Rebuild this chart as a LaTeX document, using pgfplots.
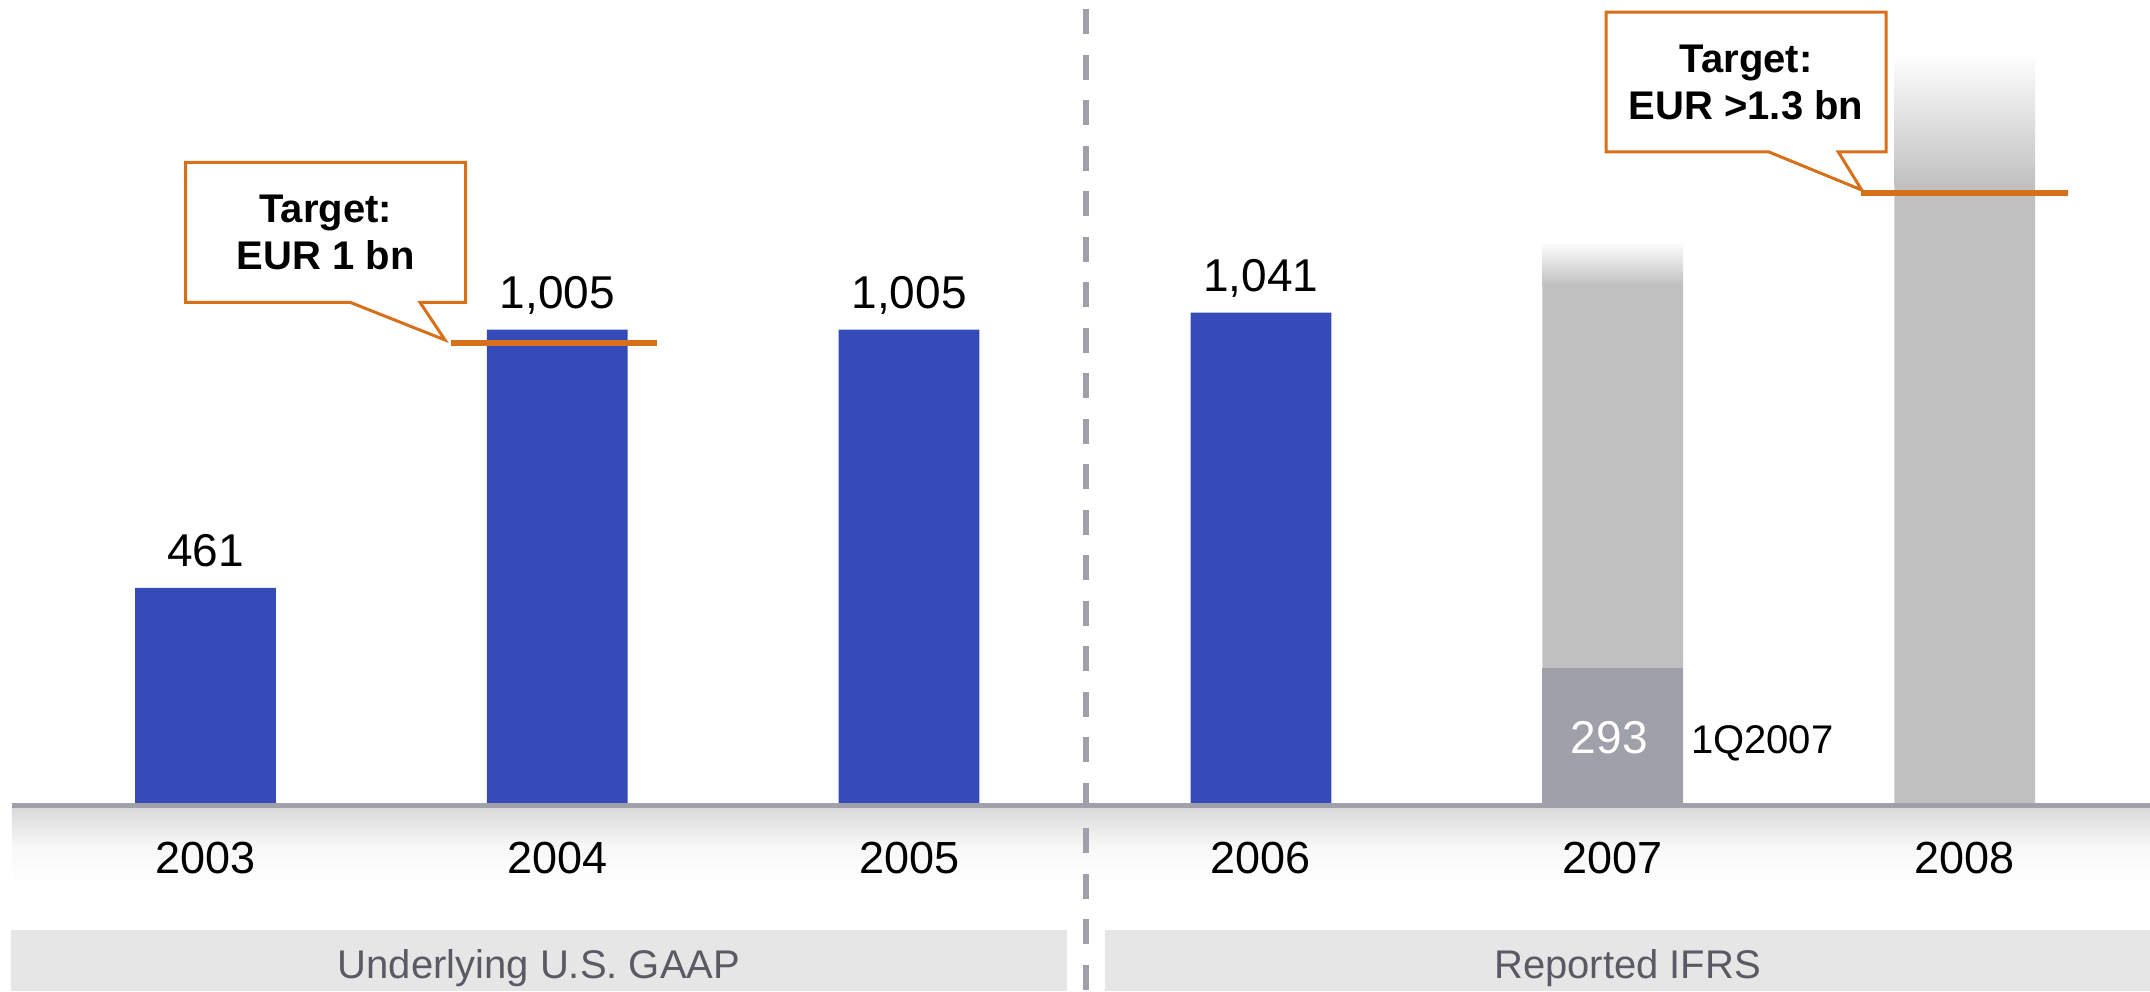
\documentclass[border=0pt]{standalone}
\usepackage{pgfplots}
\pgfplotsset{compat=1.18}
\usepackage{fontspec}
\setmainfont{Liberation Sans}
\definecolor{barblue}{RGB}{52,75,184}
\definecolor{lightgrey}{RGB}{192,192,192}
\definecolor{darkgrey}{RGB}{160,160,170}
\definecolor{axisgrey}{RGB}{160,160,170}
\definecolor{tgtorange}{RGB}{214,112,26}
\definecolor{boxgrey}{RGB}{230,230,230}
\definecolor{bandgrey}{RGB}{218,218,218}
\definecolor{labelgrey}{RGB}{90,90,100}
\begin{document}
\begin{tikzpicture}
\begin{axis}[
  width=1075pt, height=495.5pt, scale only axis,
  xmin=-0.5838, xmax=5.5269, ymin=-388, ymax=1699.6,
  axis line style={draw=none}, major tick length=0pt,
  axis on top,
  ytick=\empty,
  xtick={0,1,2,3,4,5},
  xticklabels={2003,2004,2005,2006,2007,2008},
  xticklabel style={anchor=base, yshift=59pt, font=\fontsize{22.5}{26}\selectfont},
  clip=false,
  /pgf/number format/1000 sep={,},
  /pgf/number format/assume math mode=true,
]
\coordinate (BL) at (rel axis cs:0,0);
\coordinate (TR) at (rel axis cs:1,1);
% bottom group boxes
\fill[boxgrey] (axis cs:-0.5525,-259.5) rectangle (axis cs:2.4488,-388);
\fill[boxgrey] (axis cs:2.5568,-259.5) rectangle (axis cs:5.5269,-388);
\node[anchor=base, text=labelgrey, font=\fontsize{20}{24}\selectfont] at (axis cs:0.948,-360.7) {Underlying U.S. GAAP};
\node[anchor=base, text=labelgrey, font=\fontsize{20}{24}\selectfont] at (axis cs:4.042,-360.7) {Reported IFRS};
% gradient band under the baseline
\shade[top color=bandgrey, bottom color=white, middle color=black!3] (axis cs:-0.5497,-2.53) rectangle (axis cs:5.5269,-160.5);
% light grey projected bars
\addplot[ybar, bar width=0.4, bar shift=0pt, fill=lightgrey, draw=none] coordinates {(4,1099.2) (5,1305.7)};
\addplot[draw=none, top color=white, bottom color=lightgrey, mark=none] coordinates {(3.8,1099.2) (4.2,1099.2) (4.2,1190) (3.8,1190) (3.8,1099.2)};
\addplot[draw=none, top color=white, bottom color=lightgrey, mark=none] coordinates {(4.8,1305.7) (5.2,1305.7) (5.2,1588) (4.8,1588) (4.8,1305.7)};
% 1Q2007 actual
\addplot[ybar, bar width=0.4, bar shift=0pt, fill=darkgrey, draw=none] coordinates {(4,293)};
\node[anchor=base, text=white, font=\fontsize{23}{27}\selectfont] at (axis cs:3.99,112.7) {293};
\node[anchor=base west, inner sep=0pt, font=\fontsize{20}{24}\selectfont] at (axis cs:4.2215,112.7) {1Q2007};
% blue bars
\addplot[ybar, bar width=0.4, bar shift=0pt, fill=barblue, draw=none,
  nodes near coords,
  every node near coord/.append style={anchor=base, yshift=10.5pt, font=\fontsize{23}{27}\selectfont, text=black}]
  coordinates {(0,461) (1,1005) (2,1005) (3,1041)};
% baseline
\draw[axisgrey, line width=2.5pt] (axis cs:-0.5497,2.74) -- (axis cs:5.5269,2.74);
% dashed separator
\draw[axisgrey, line width=3pt, dash pattern=on 12.5pt off 10.25pt, dash phase=18.1pt] (axis cs:2.503,1699.6) -- (axis cs:2.503,-388);
% target lines
\addplot[tgtorange, line width=3pt, mark=none] coordinates {(0.697,978) (1.284,978)};
\addplot[tgtorange, line width=3pt, mark=none] coordinates {(4.706,1292) (5.295,1292)};
% callout 1
\draw[tgtorange, line width=1.5pt, fill=white, line join=miter]
  (axis cs:-0.0560,1357.7) -- (axis cs:0.7398,1357.7) -- (axis cs:0.7398,1062.8)
  -- (axis cs:0.6099,1062.8) -- (axis cs:0.6810,983.4) -- (axis cs:0.4110,1062.8)
  -- (axis cs:-0.0560,1062.8) -- cycle;
\node[anchor=base, font=\fontsize{20}{24}\selectfont\bfseries] at (axis cs:0.3419,1230.5) {Target:};
\node[anchor=base, font=\fontsize{20}{24}\selectfont\bfseries] at (axis cs:0.3419,1132.3) {EUR 1 bn};
% callout 2
\draw[tgtorange, line width=1.5pt, fill=white, line join=miter]
  (axis cs:3.9808,1674.3) -- (axis cs:4.7766,1674.3) -- (axis cs:4.7766,1379.4)
  -- (axis cs:4.6411,1379.4) -- (axis cs:4.7076,1299.3) -- (axis cs:4.4441,1379.4)
  -- (axis cs:3.9808,1379.4) -- cycle;
\node[anchor=base, font=\fontsize{20}{24}\selectfont\bfseries] at (axis cs:4.3787,1547.0) {Target:};
\node[anchor=base, font=\fontsize{20}{24}\selectfont\bfseries] at (axis cs:4.3787,1448.9) {EUR >1.3 bn};
\end{axis}
\pgfresetboundingbox
\path (BL) rectangle (TR);
\end{tikzpicture}
\end{document}
